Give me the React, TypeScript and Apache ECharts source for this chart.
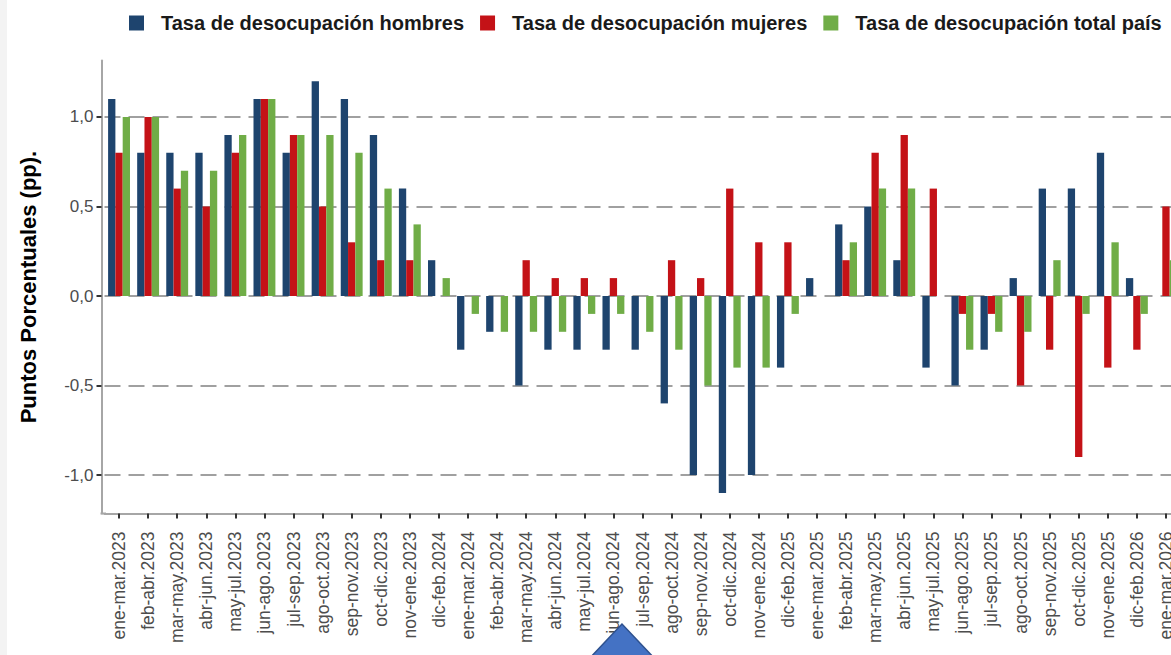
import React, { useEffect, useRef } from "react";
import * as echarts from "echarts";

const categories = [
  "ene-mar.2023", "feb-abr.2023", "mar-may.2023", "abr-jun.2023", "may-jul.2023",
  "jun-ago.2023", "jul-sep.2023", "ago-oct.2023", "sep-nov.2023", "oct-dic.2023",
  "nov-ene.2023", "dic-feb.2024", "ene-mar.2024", "feb-abr.2024", "mar-may.2024",
  "abr-jun.2024", "may-jul.2024", "jun-ago.2024", "jul-sep.2024", "ago-oct.2024",
  "sep-nov.2024", "oct-dic.2024", "nov-ene.2024", "dic-feb.2025", "ene-mar.2025",
  "feb-abr.2025", "mar-may.2025", "abr-jun.2025", "may-jul.2025", "jun-ago.2025",
  "jul-sep.2025", "ago-oct.2025", "sep-nov.2025", "oct-dic.2025", "nov-ene.2025",
  "dic-feb.2026", "ene-mar.2026",
];

const hombres = [
  1.1, 0.8, 0.8, 0.8, 0.9, 1.1, 0.8, 1.2, 1.1, 0.9, 0.6, 0.2, -0.3, -0.2, -0.5,
  -0.3, -0.3, -0.3, -0.3, -0.6, -1.0, -1.1, -1.0, -0.4, 0.1, 0.4, 0.5, 0.2, -0.4,
  -0.5, -0.3, 0.1, 0.6, 0.6, 0.8, 0.1, 0.0,
];

const mujeres = [
  0.8, 1.0, 0.6, 0.5, 0.8, 1.1, 0.9, 0.5, 0.3, 0.2, 0.2, 0.0, 0.0, 0.0, 0.2,
  0.1, 0.1, 0.1, 0.0, 0.2, 0.1, 0.6, 0.3, 0.3, 0.0, 0.2, 0.8, 0.9, 0.6,
  -0.1, -0.1, -0.5, -0.3, -0.9, -0.4, -0.3, 0.5,
];

const total = [
  1.0, 1.0, 0.7, 0.7, 0.9, 1.1, 0.9, 0.9, 0.8, 0.6, 0.4, 0.1, -0.1, -0.2, -0.2,
  -0.2, -0.1, -0.1, -0.2, -0.3, -0.5, -0.4, -0.4, -0.1, 0.0, 0.3, 0.6, 0.6, 0.0,
  -0.3, -0.2, -0.2, 0.2, -0.1, 0.3, -0.1, 0.2,
];

const yTicks = [-1, -0.5, 0, 0.5, 1];

const seriesNames = [
  "Tasa de desocupación hombres",
  "Tasa de desocupación mujeres",
  "Tasa de desocupación total país",
];
const colors = ["#1E446E", "#C41217", "#70AD47"];

const FONT = '"Liberation Sans", Arial, sans-serif';

export default function App() {
  const ref = useRef<HTMLDivElement>(null);

  useEffect(() => {
    if (!ref.current) return;
    const chart = echarts.init(ref.current, null, { renderer: "svg" });
    const seriesData = [hombres, mujeres, total];
    chart.setOption({
      animation: false,
      backgroundColor: "transparent",
      textStyle: { fontFamily: FONT },
      legend: {
        data: seriesNames,
        left: 124,
        top: 8,
        itemWidth: 15,
        itemHeight: 15,
        itemGap: 16,
        icon: "rect",
        textStyle: {
          fontFamily: FONT,
          fontSize: 20,
          fontWeight: "bold",
          color: "#1a1a1a",
          padding: [0, 0, 0, 12],
        },
      },
      grid: {
        left: 104.5,
        top: 60.6,
        width: 1076,
        height: 452.9,
      },
      xAxis: {
        type: "category",
        data: categories,
        boundaryGap: true,
        axisLine: { show: true, onZero: false, lineStyle: { color: "#a6a6a6", width: 2 } },
        axisTick: { show: true, alignWithLabel: true, length: 5, lineStyle: { color: "#333333", width: 2 } },
        axisLabel: {
          interval: 0,
          rotate: 90,
          fontSize: 17.5,
          color: "#4d4d4d",
          margin: 18,
          fontFamily: FONT,
        },
        splitLine: { show: false },
      },
      yAxis: {
        type: "value",
        min: -1.215,
        max: 1.315,
        splitNumber: 5,
        offset: 3,
        name: "Puntos Porcentuales (pp).",
        nameLocation: "middle",
        nameGap: 62,
        nameTextStyle: { fontSize: 22, fontWeight: "bold", color: "#000000", fontFamily: FONT },
        axisLine: { show: true, lineStyle: { color: "#a6a6a6", width: 2 } },
        axisTick: { show: true, length: 5, customValues: yTicks, lineStyle: { color: "#333333", width: 2 } },
        axisLabel: {
          customValues: yTicks,
          fontSize: 17,
          color: "#4d4d4d",
          margin: 8,
          fontFamily: FONT,
          formatter: (v: number) => v.toFixed(1).replace(".", ","),
        },
        splitLine: {
          show: true,
          lineStyle: { color: "#a0a0a0", width: 2, type: [16, 8] },
        },
      },
      series: seriesNames.map((name, i) => ({
        name,
        type: "bar",
        data: seriesData[i],
        barWidth: 7.3,
        barGap: "0%",
        itemStyle: { color: colors[i] },
      })),
      graphic: [
        {
          type: "line",
          z: 10,
          shape: { x1: 100.5, y1: 513.5, x2: 106, y2: 513.5 },
          style: { stroke: "#a6a6a6", lineWidth: 2 },
        },
        {
          type: "polygon",
          z: 100,
          shape: { points: [[622, 624], [588, 660], [656, 660]] },
          style: { fill: "#4472C4", stroke: "#2F528F", lineWidth: 1.5 },
        },
      ],
    });
    return () => chart.dispose();
  }, []);

  return (
    <div
      style={{
        position: "fixed",
        left: 0,
        top: 0,
        width: 1171,
        height: 655,
        overflow: "hidden",
        background: "#ffffff",
      }}
    >
      <div
        style={{
          position: "absolute",
          left: 0,
          top: 0,
          width: 7,
          height: 655,
          background: "#f3f3f3",
        }}
      />
      <div ref={ref} style={{ position: "absolute", left: 0, top: 0, width: 1210, height: 655 }} />
    </div>
  );
}
